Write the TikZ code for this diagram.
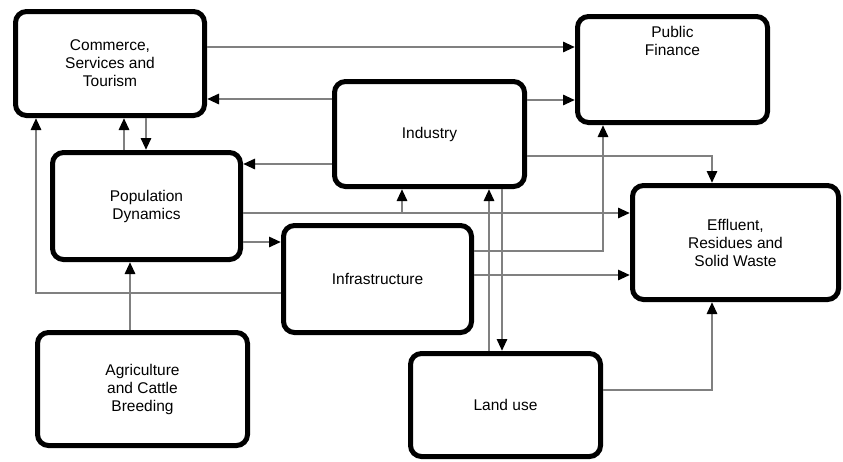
\documentclass[tikz,border=0pt]{standalone}
\usepackage{fontspec}
\setmainfont{Liberation Sans}
\usetikzlibrary{arrows.meta}

\begin{document}
\begin{tikzpicture}[x=1pt,y=-1pt,
    block/.style={draw,line width=5pt,rounded corners=11pt,align=center,font=\fontsize{15.5}{18}\selectfont},
    flow/.style={draw=black!50,line width=2.8pt,-{Triangle[length=12pt,width=10pt,color=black]}}]
    \useasboundingbox (0,0) rectangle (843,461);
    \node[block,minimum width=189pt,minimum height=104pt] (com) at (110,63.5) {Commerce,\\Services and\\Tourism};
    \node[block,minimum width=190pt,minimum height=106pt,text depth=57pt] (pf) at (672.5,69.5) {Public\\Finance};
    \node[block,minimum width=190pt,minimum height=105pt] (ind) at (429.5,134) {Industry};
    \node[block,minimum width=188pt,minimum height=107pt] (pop) at (146.5,206) {Population\\Dynamics};
    \node[block,minimum width=188pt,minimum height=107pt] (inf) at (377.5,279) {Infrastructure};
    \node[block,minimum width=206pt,minimum height=114pt] (eff) at (735.5,242.5) {Effluent,\\Residues and\\Solid Waste};
    \node[block,minimum width=210pt,minimum height=113pt] (agr) at (142.5,389) {Agriculture\\and Cattle\\Breeding};
    \node[block,minimum width=190pt,minimum height=103pt] (land) at (505.5,405) {Land use};

    \draw[flow] (com.east |- 0,47) -- (pf.west |- 0,47);
    \draw[flow] (ind.west |- 0,99) -- (com.east |- 0,99);
    \draw[flow] (ind.east |- 0,100) -- (pf.west |- 0,100);
    \draw[flow] (ind.west |- 0,164) -- (pop.east |- 0,164);
    \draw[flow] (ind.east |- 0,156) -| (eff.north -| 712,0);
    \draw[flow] (pop.east |- 0,213) -- (eff.west |- 0,213);
    \draw[flow] (pop.east |- 0,213) -| (ind.south -| 402,0);
    \draw[flow] (pop.east |- 0,242) -- (inf.west |- 0,242);
    \draw[flow] (inf.west |- 0,293) -| (com.south -| 36,0);
    \draw[flow] (agr.north -| 130,0) -- (pop.south -| 130,0);
    \draw[flow] (pop.north -| 124,0) -- (com.south -| 124,0);
    \draw[flow] (com.south -| 146,0) -- (pop.north -| 146,0);
    \draw[flow] (inf.east |- 0,251) -| (pf.south -| 603,0);
    \draw[flow] (inf.east |- 0,275) -- (eff.west |- 0,275);
    \draw[flow] (land.north -| 489,0) -- (ind.south -| 489,0);
    \draw[flow] (ind.south -| 502,0) -- (land.north -| 502,0);
    \draw[flow] (land.east |- 0,390) -| (eff.south -| 712,0);
\end{tikzpicture}
\end{document}
